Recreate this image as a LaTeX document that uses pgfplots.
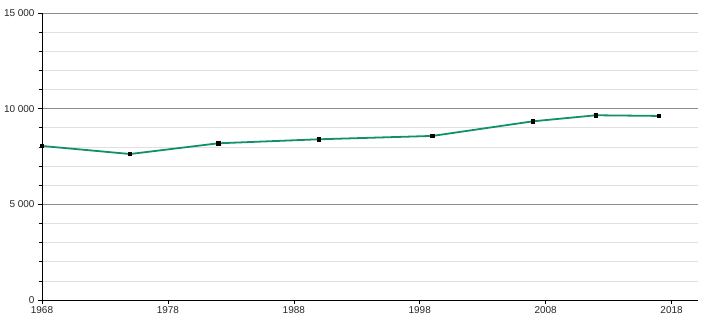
\documentclass[border=0pt]{standalone}
\usepackage{pgfplots}
\pgfplotsset{compat=1.18}
\usepackage{fontspec}
\setmainfont{Liberation Sans}
\definecolor{linegreen}{RGB}{18,143,108}
\begin{document}
\begin{tikzpicture}[x=1bp,y=1bp]
\path[use as bounding box] (-42bp,-20bp) rectangle (668bp,300bp);
\begin{axis}[
  at={(0,0)}, anchor=south west,
  scale only axis, width=656bp, height=287bp,
  xmin=1968, xmax=2020.1, ymin=0, ymax=15000,
  axis x line*=bottom, axis y line*=left,
  axis line style={black, line width=0.8pt, -},
  xtick={1968,1978,1988,1998,2008,2018},
  ytick={0,5000,10000,15000},
  minor ytick={1000,2000,3000,4000,6000,7000,8000,9000,11000,12000,13000,14000},
  scaled y ticks=false, scaled x ticks=false,
  xticklabel style={/pgf/number format/1000 sep={}},
  yticklabel style={/pgf/number format/1000 sep={\ }},
  /pgf/number format/assume math mode=true,
  tick align=outside,
  major tick length=4bp, minor tick length=3bp,
  tick style={black, line width=0.6pt},
  ymajorgrids, yminorgrids,
  major grid style={gray!90, line width=0.6pt},
  minor grid style={gray!25, line width=0.6pt},
  ticklabel style={font=\fontsize{10}{12}\selectfont, text=black!85},
  xticklabel style={yshift=1bp},
  clip=false,
]
\addplot[linegreen, line width=1.8pt, mark=square*, mark size=1.8bp,
  mark options={black, fill=black, line width=0pt}]
  coordinates {
  (1968,8050) (1975,7630) (1982,8190) (1990,8400) (1999,8575)
  (2007,9340) (2012,9655) (2017,9620)
};
\end{axis}
\end{tikzpicture}
\end{document}
